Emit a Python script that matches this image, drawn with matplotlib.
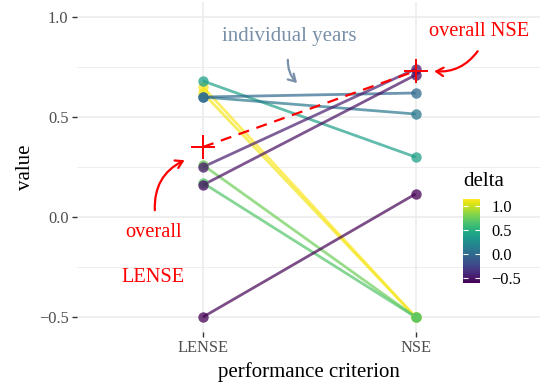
import matplotlib
matplotlib.use("Agg")
import matplotlib.pyplot as plt
import numpy as np
from matplotlib.patches import FancyArrowPatch
from matplotlib.colors import Normalize
from matplotlib.cm import ScalarMappable

plt.rcParams['font.family'] = ['Liberation Serif', 'DejaVu Serif']

# criteria on the x axis
criteria = ["LENSE", "NSE"]

# per-year scores under each criterion
lense = [0.68, 0.65, 0.62, 0.60, 0.60, 0.26, 0.25, 0.17, 0.16, -0.50]
nse = [0.30, -0.50, -0.50, 0.62, 0.515, -0.50, 0.74, -0.50, 0.71, 0.115]

# scores computed over the whole record
overall = [0.35, 0.73]

yticks = [-0.5, 0.0, 0.5, 1.0]
cbar_ticks = [-0.5, 0.0, 0.5, 1.0]

lense = np.array(lense)
nse = np.array(nse)
delta = lense - nse

fig = plt.figure(figsize=(5.4, 3.82), dpi=100)
ax = fig.add_axes([77 / 540, 1 - 332 / 382, 1 - 77 / 540, 330 / 382])

norm = Normalize(vmin=delta.min(), vmax=delta.max())
cmap = plt.get_cmap("viridis")

xs = np.arange(1, len(criteria) + 1)

# grid
for yv in yticks:
    ax.axhline(yv, color="#ebebeb", lw=1.1, zorder=0)
for yv in [-0.25, 0.25, 0.75]:
    ax.axhline(yv, color="#ebebeb", lw=0.55, zorder=0)
for xv in xs:
    ax.axvline(xv, color="#ebebeb", lw=1.1, zorder=0)

order = np.argsort(-delta)
for i in order:
    c = cmap(norm(delta[i]))
    ax.plot(xs, [lense[i], nse[i]], color=c, lw=2.0, alpha=0.7, zorder=2,
            solid_capstyle="butt")
for i in order:
    c = cmap(norm(delta[i]))
    ax.plot(xs, [lense[i], nse[i]], "o", color=c, ms=7.5, alpha=0.75,
            mew=0, zorder=3)

# overall scores
ax.plot(xs, overall, color="red", lw=1.6, ls=(0, (5, 3.5)), zorder=4)
ax.plot(xs, overall, "+", color="red", ms=17, mew=1.4, zorder=5)

# annotations
ax.text(1.405, 0.90, "individual years", color="#7890a8", fontsize=15,
        ha="center", va="center", zorder=6)
ax.add_patch(FancyArrowPatch((1.40, 0.80), (1.452, 0.66),
                             connectionstyle="arc3,rad=0.25",
                             arrowstyle="->,head_length=5,head_width=3",
                             color="#7890a8", lw=1.6, zorder=6))

ax.text(2.30, 0.925, "overall NSE", color="red", fontsize=14.7,
        ha="center", va="center", zorder=6)
ax.add_patch(FancyArrowPatch((2.30, 0.84), (2.075, 0.73),
                             connectionstyle="arc3,rad=-0.3",
                             arrowstyle="->,head_length=5,head_width=3",
                             color="red", lw=1.6, zorder=6))

ax.text(0.765, -0.075, "overall", color="red", fontsize=14.7,
        ha="center", va="center", zorder=6)
ax.text(0.765, -0.30, "LENSE", color="red", fontsize=14.7,
        ha="center", va="center", zorder=6)
ax.add_patch(FancyArrowPatch((0.774, 0.02), (0.925, 0.29),
                             connectionstyle="arc3,rad=-0.35",
                             arrowstyle="->,head_length=5,head_width=3",
                             color="red", lw=1.6, zorder=6))

ax.set_xlim(1 - 126 / 212.5, 2 + 124.5 / 212.5)
ax.set_ylim(-0.575, 1.075)
ax.set_xticks(xs)
ax.set_xticklabels(criteria)
ax.set_yticks(yticks)
ax.set_yticklabels([f"{v:.1f}".replace("-", "\u2212") for v in yticks])
ax.tick_params(axis="both", colors="#333333", length=3.5, width=1.0,
               labelsize=11.8, labelcolor="#4d4d4d", pad=2.5)
for s in ax.spines.values():
    s.set_visible(False)
ax.set_facecolor("none")
ax.set_xlabel("performance criterion", fontsize=15, labelpad=4)
ax.set_ylabel("value", fontsize=15, labelpad=3)

# colour legend
cax = fig.add_axes([463 / 540, 1 - 283 / 382, 17 / 540, 84 / 382])
sm = ScalarMappable(norm=norm, cmap=cmap)
cb = fig.colorbar(sm, cax=cax, ticks=cbar_ticks)
cb.outline.set_visible(False)
cb.ax.set_yticklabels([f"{v:.1f}".replace("-", "\u2212") for v in cbar_ticks])
cb.ax.tick_params(direction="in", color="white", length=3.5, width=0.8,
                  left=True, right=True, labelsize=11.8, labelcolor="black",
                  pad=8)
fig.text(463 / 540, 1 - 181 / 382, "delta", fontsize=15, ha="left",
         va="center")

fig.savefig("out.png", dpi=100)
